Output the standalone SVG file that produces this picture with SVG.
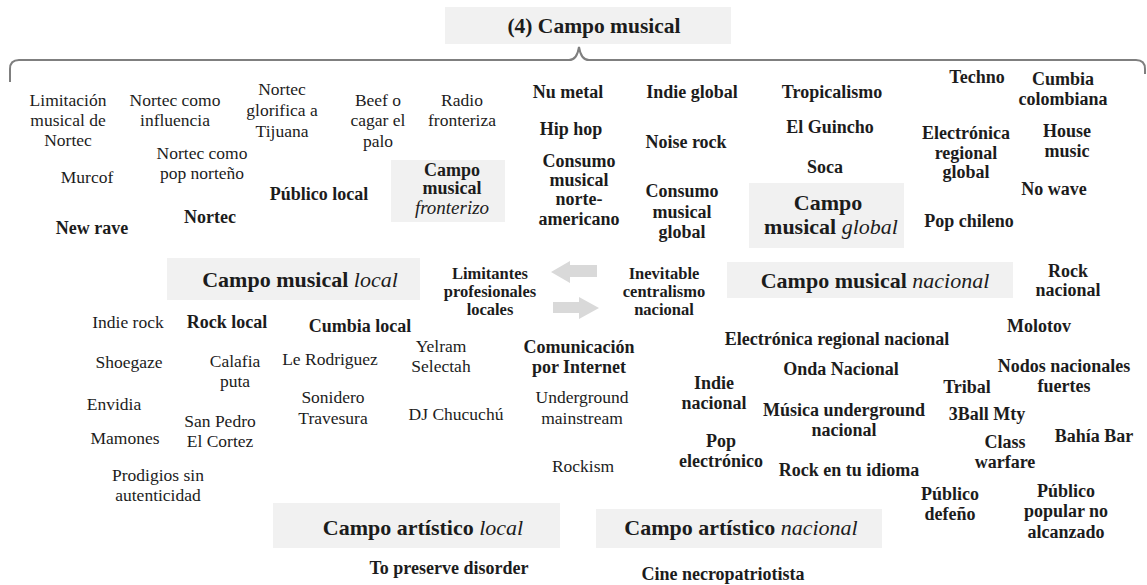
<svg xmlns="http://www.w3.org/2000/svg" width="1147" height="585" viewBox="0 0 1147 585">
<style>
text{font-family:"Liberation Serif","Times New Roman",serif;fill:#1c1c1c;text-anchor:middle}
.r{font-size:17.5px}
.b{font-size:18px;font-weight:bold}
.s{font-size:16.5px;font-weight:bold}
.t{font-size:22px;font-weight:bold}
.it{font-style:italic;font-weight:normal}
.box{fill:#f1f1f1}
.arr{fill:#d9d9d9}
.brace{fill:none;stroke:#7f7f7f;stroke-width:2}
</style>
<rect width="1147" height="585" fill="#ffffff"/>

<g id="title">
<rect class="box" x="445" y="7" width="286" height="37"/>
<text class="t" style="font-size:21.5px" x="594" y="33">(4) Campo musical</text>
</g>
<g id="brace">
<path class="brace" d="M10,82 L10,69 Q10,60 19,60 L569,60 Q577,60 579,47 Q581,60 589,60 L1136,60 Q1145,60 1145,69 L1145,74"/>
</g>

<g id="campo-fronterizo">
<rect class="box" x="391" y="160" width="114" height="62"/>
<text class="t" style="font-size:18px"><tspan x="452" y="176">Campo</tspan><tspan x="452" y="194">musical</tspan><tspan x="452" y="214" class="it" style="font-size:19px">fronterizo</tspan></text>
</g>
<g id="campo-global">
<rect class="box" x="749" y="183" width="155" height="65"/>
<text class="t"><tspan x="828" y="210">Campo</tspan><tspan x="831" y="234">musical <tspan class="it">global</tspan></tspan></text>
</g>
<g id="campo-local">
<rect class="box" x="167" y="258" width="253" height="42"/>
<text class="t" x="300" y="287">Campo musical <tspan class="it">local</tspan></text>
</g>
<g id="campo-nacional">
<rect class="box" x="727" y="262" width="286" height="36"/>
<text class="t" x="875" y="288">Campo musical <tspan class="it">nacional</tspan></text>
</g>
<g id="artistico-local">
<rect class="box" x="273" y="503" width="287" height="45"/>
<text class="t" x="423" y="535">Campo artístico <tspan class="it">local</tspan></text>
</g>
<g id="artistico-nacional">
<rect class="box" x="596" y="509" width="286" height="39"/>
<text class="t" x="741" y="535">Campo artístico <tspan class="it">nacional</tspan></text>
</g>

<g id="connectors">
<polygon class="arr" points="551,272 570,261 570,265 597,265 597,277 570,277 570,283"/>
<polygon class="arr" points="599,308 579,297 579,302 553,302 553,313 579,313 579,319"/>
</g>

<!-- frontier cluster -->
<g id="n-limitacion"><text class="r"><tspan x="68" y="106">Limitación</tspan><tspan x="68" y="126">musical de</tspan><tspan x="68" y="146">Nortec</tspan></text></g>
<g id="n-nortec-influencia"><text class="r"><tspan x="175" y="106">Nortec como</tspan><tspan x="175" y="126">influencia</tspan></text></g>
<g id="n-nortec-tijuana"><text class="r"><tspan x="282" y="95">Nortec</tspan><tspan x="282" y="116">glorifica a</tspan><tspan x="282" y="137">Tijuana</tspan></text></g>
<g id="n-beef"><text class="r"><tspan x="378" y="106">Beef o</tspan><tspan x="378" y="126">cagar el</tspan><tspan x="378" y="147">palo</tspan></text></g>
<g id="n-radio"><text class="r"><tspan x="462" y="106">Radio</tspan><tspan x="462" y="126">fronteriza</tspan></text></g>
<g id="n-nortec-pop"><text class="r"><tspan x="202" y="159">Nortec como</tspan><tspan x="202" y="179">pop norteño</tspan></text></g>
<g id="n-murcof"><text class="r" x="87" y="183">Murcof</text></g>
<g id="n-publico-local"><text class="b" x="319" y="200">Público local</text></g>
<g id="n-nortec"><text class="b" x="210" y="223">Nortec</text></g>
<g id="n-new-rave"><text class="b" x="92" y="234">New rave</text></g>

<!-- global cluster -->
<g id="n-nu-metal"><text class="b" x="568" y="98">Nu metal</text></g>
<g id="n-hip-hop"><text class="b" x="571" y="135">Hip hop</text></g>
<g id="n-consumo-na"><text class="b"><tspan x="579" y="167">Consumo</tspan><tspan x="579" y="186">musical</tspan><tspan x="579" y="205">norte-</tspan><tspan x="579" y="225">americano</tspan></text></g>
<g id="n-indie-global"><text class="b" x="692" y="98">Indie global</text></g>
<g id="n-noise-rock"><text class="b" x="686" y="148">Noise rock</text></g>
<g id="n-consumo-global"><text class="b"><tspan x="682" y="197">Consumo</tspan><tspan x="682" y="218">musical</tspan><tspan x="682" y="238">global</tspan></text></g>
<g id="n-tropicalismo"><text class="b" x="832" y="98">Tropicalismo</text></g>
<g id="n-guincho"><text class="b" x="830" y="133">El Guincho</text></g>
<g id="n-soca"><text class="b" x="825" y="173">Soca</text></g>
<g id="n-techno"><text class="b" x="977" y="83">Techno</text></g>
<g id="n-cumbia-col"><text class="b"><tspan x="1063" y="85">Cumbia</tspan><tspan x="1063" y="105">colombiana</tspan></text></g>
<g id="n-electronica-global"><text class="b"><tspan x="966" y="139">Electrónica</tspan><tspan x="966" y="159">regional</tspan><tspan x="966" y="178">global</tspan></text></g>
<g id="n-house"><text class="b"><tspan x="1067" y="137">House</tspan><tspan x="1067" y="157">music</tspan></text></g>
<g id="n-no-wave"><text class="b" x="1054" y="195">No wave</text></g>
<g id="n-pop-chileno"><text class="b" x="969" y="227">Pop chileno</text></g>

<!-- middle -->
<g id="n-limitantes"><text class="s"><tspan x="490" y="279">Limitantes</tspan><tspan x="490" y="297">profesionales</tspan><tspan x="490" y="315">locales</tspan></text></g>
<g id="n-inevitable"><text class="s"><tspan x="664" y="279">Inevitable</tspan><tspan x="664" y="297">centralismo</tspan><tspan x="664" y="315">nacional</tspan></text></g>
<g id="n-rock-nacional"><text class="b"><tspan x="1068" y="277">Rock</tspan><tspan x="1068" y="296">nacional</tspan></text></g>

<!-- local cluster -->
<g id="n-indie-rock"><text class="r" x="128" y="328">Indie rock</text></g>
<g id="n-rock-local"><text class="b" x="227" y="328">Rock local</text></g>
<g id="n-cumbia-local"><text class="b" x="360" y="332">Cumbia local</text></g>
<g id="n-shoegaze"><text class="r" x="129" y="368">Shoegaze</text></g>
<g id="n-calafia"><text class="r"><tspan x="235" y="367">Calafia</tspan><tspan x="235" y="387">puta</tspan></text></g>
<g id="n-le-rodriguez"><text class="r" x="330" y="365">Le Rodriguez</text></g>
<g id="n-yelram"><text class="r"><tspan x="441" y="352">Yelram</tspan><tspan x="441" y="372">Selectah</tspan></text></g>
<g id="n-sonidero"><text class="r"><tspan x="333" y="403">Sonidero</tspan><tspan x="333" y="424">Travesura</tspan></text></g>
<g id="n-dj"><text class="r" x="456" y="420">DJ Chucuchú</text></g>
<g id="n-envidia"><text class="r" x="114" y="410">Envidia</text></g>
<g id="n-san-pedro"><text class="r"><tspan x="220" y="427">San Pedro</tspan><tspan x="220" y="447">El Cortez</tspan></text></g>
<g id="n-mamones"><text class="r" x="125" y="444">Mamones</text></g>
<g id="n-prodigios"><text class="r"><tspan x="158" y="481">Prodigios sin</tspan><tspan x="158" y="501">autenticidad</tspan></text></g>
<g id="n-comunicacion"><text class="b"><tspan x="579" y="353">Comunicación</tspan><tspan x="579" y="373">por Internet</tspan></text></g>
<g id="n-underground"><text class="r"><tspan x="582" y="403">Underground</tspan><tspan x="582" y="424">mainstream</tspan></text></g>
<g id="n-rockism"><text class="r" x="583" y="472">Rockism</text></g>

<!-- national cluster -->
<g id="n-electronica-nacional"><text class="b" x="837" y="345">Electrónica regional nacional</text></g>
<g id="n-molotov"><text class="b" x="1039" y="332">Molotov</text></g>
<g id="n-indie-nacional"><text class="b"><tspan x="714" y="389">Indie</tspan><tspan x="714" y="409">nacional</tspan></text></g>
<g id="n-onda"><text class="b" x="841" y="375">Onda Nacional</text></g>
<g id="n-nodos"><text class="b"><tspan x="1064" y="372">Nodos nacionales</tspan><tspan x="1064" y="392">fuertes</tspan></text></g>
<g id="n-tribal"><text class="b" x="967" y="393">Tribal</text></g>
<g id="n-musica-underground"><text class="b"><tspan x="844" y="416">Música underground</tspan><tspan x="844" y="436">nacional</tspan></text></g>
<g id="n-3ball"><text class="b" x="987" y="420">3Ball Mty</text></g>
<g id="n-pop-electronico"><text class="b"><tspan x="721" y="447">Pop</tspan><tspan x="721" y="467">electrónico</tspan></text></g>
<g id="n-rock-idioma"><text class="b" x="849" y="476">Rock en tu idioma</text></g>
<g id="n-class"><text class="b"><tspan x="1005" y="448">Class</tspan><tspan x="1005" y="468">warfare</tspan></text></g>
<g id="n-bahia"><text class="b" x="1094" y="442">Bahía Bar</text></g>
<g id="n-publico-defeno"><text class="b"><tspan x="950" y="500">Público</tspan><tspan x="950" y="520">defeño</tspan></text></g>
<g id="n-publico-popular"><text class="b"><tspan x="1066" y="497">Público</tspan><tspan x="1066" y="517">popular no</tspan><tspan x="1066" y="538">alcanzado</tspan></text></g>

<g id="n-to-preserve"><text class="b" x="449" y="574">To preserve disorder</text></g>
<g id="n-cine"><text class="b" x="723" y="580">Cine necropatriotista</text></g>
</svg>
